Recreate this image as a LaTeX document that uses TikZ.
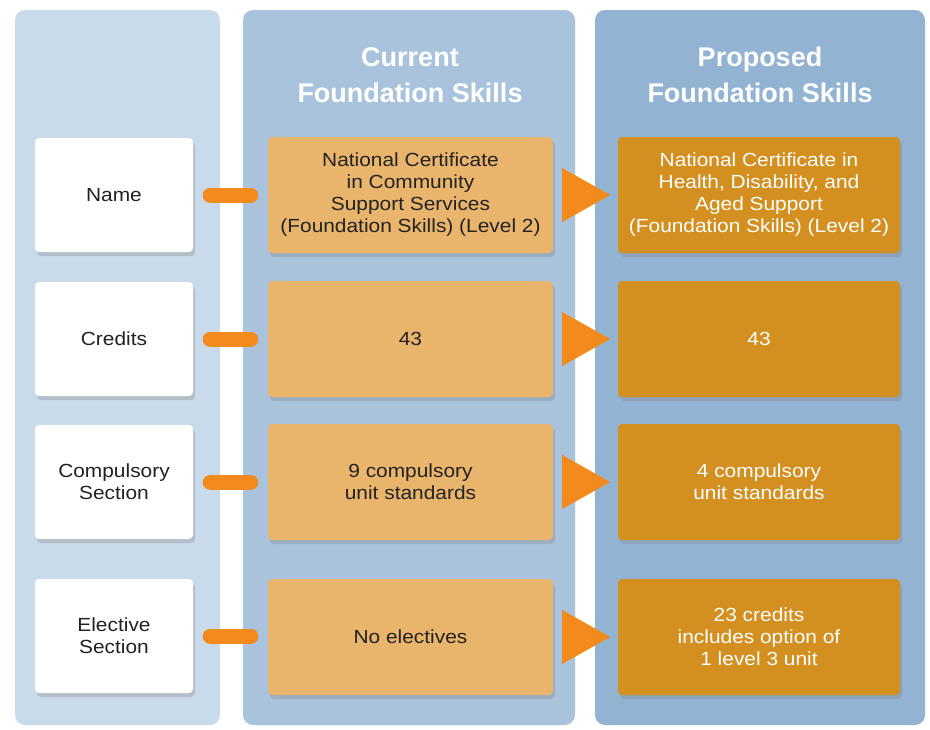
\documentclass[tikz,border=0pt]{standalone}
\usepackage{fontspec}
\setmainfont{Liberation Sans}
\newfontfamily\boxfont[FakeStretch=1.1]{Liberation Sans}
\usetikzlibrary{shadows,calc}
\definecolor{panelA}{HTML}{C9DAEA}
\definecolor{panelB}{HTML}{A9C3DC}
\definecolor{panelC}{HTML}{93B3D3}
\definecolor{curfill}{HTML}{E9B46B}
\definecolor{propfill}{HTML}{D38F1F}
\definecolor{accent}{HTML}{F28A1E}
\definecolor{darktext}{HTML}{222222}
\begin{document}
\begin{tikzpicture}[x=1pt,y=-1pt,
  panel/.style={rounded corners=10pt},
  boxbase/.style={rounded corners=4pt, align=center, font=\boxfont\fontsize{19}{22}\selectfont,
    drop shadow={opacity=0.3, shadow xshift=2pt, shadow yshift=-4pt}},
  lbl/.style={boxbase, fill=white, text=darktext, minimum width=158pt, minimum height=114pt},
  cur/.style={boxbase, fill=curfill, text=darktext, minimum width=285pt, minimum height=116pt},
  prop/.style={boxbase, fill=propfill, text=white, minimum width=282pt, minimum height=116pt},
  head/.style={text=white, align=center, font=\fontsize{27}{36}\selectfont\bfseries},
  dashline/.style={accent, line width=15pt, line cap=round, shorten <=17pt, shorten >=17pt},
  tri/.style={fill=accent}
]
\useasboundingbox (0,0) rectangle (930,729);
\fill[white] (0,0) rectangle (930,729);
% panels
\fill[panelA, panel] (15,10) rectangle (220,725);
\fill[panelB, panel] (243,10) rectangle (575,725);
\fill[panelC, panel] (595,10) rectangle (925,725);
% headers
\node[head] (H1) at (410,75) {Current\\Foundation Skills};
\node[head] (H2) at (760,75) {Proposed\\Foundation Skills};
% label boxes
\node[lbl] (L1) at (114,195) {Name};
\node[lbl] (L2) at (114,339) {Credits};
\node[lbl] (L3) at (114,482) {Compulsory\\Section};
\node[lbl] (L4) at (114,636) {Elective\\Section};
% current
\node[cur] (C1) at (410.5,195) {National Certificate\\in Community\\Support Services\\(Foundation Skills) (Level 2)};
\node[cur] (C2) at (410.5,339) {43};
\node[cur] (C3) at (410.5,482) {9 compulsory\\unit standards};
\node[cur] (C4) at (410.5,637) {No electives};
% proposed
\node[prop] (P1) at (759,195) {National Certificate in\\Health, Disability, and\\Aged Support\\(Foundation Skills) (Level 2)};
\node[prop] (P2) at (759,339) {43};
\node[prop] (P3) at (759,482) {4 compulsory\\unit standards};
\node[prop] (P4) at (759,637) {23 credits\\includes option of\\1 level 3 unit};
% connectors
\foreach \i in {1,2,3,4}{
  \draw[dashline] (L\i.east) -- (L\i.east -| C\i.west);
  \fill[tri] ($(C\i.east)+(9,-27)$) -- ($(C\i.east)+(9,27)$) -- ($(C\i.east)+(57,0)$) -- cycle;
}
\end{tikzpicture}
\end{document}
